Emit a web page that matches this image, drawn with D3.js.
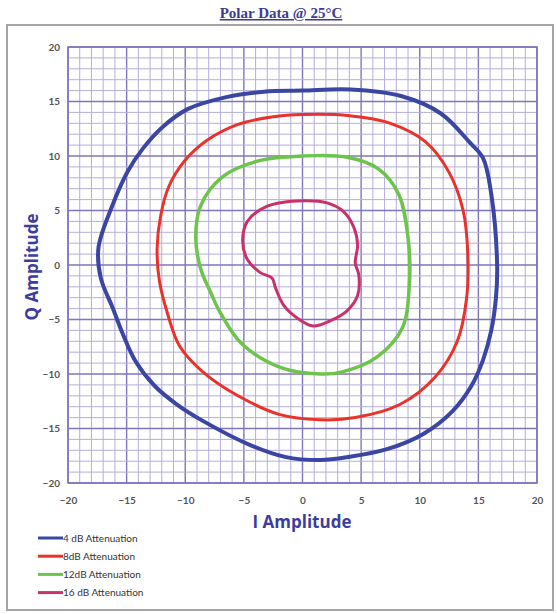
<!DOCTYPE html>
<html><head><meta charset="utf-8">
<script src="https://cdn.jsdelivr.net/npm/d3@7"></script>
<style>html,body{margin:0;padding:0;background:#fff;}svg{display:block;}</style>
</head><body>
<svg id="c" width="557" height="614"></svg>
<script>
const xTicks = [-20,-15,-10,-5,0,5,10,15,20];
const yTicks = [-20,-15,-10,-5,0,5,10,15,20];
const seriesNames = ["4 dB Attenuation","8dB Attenuation","12dB Attenuation","16 dB Attenuation"];
const seriesColors = ["#3a46a2","#e8322a","#6cc44a","#c8316c"];
const seriesWidths = [4,3,3.5,3];
const blueI = [0,4.1,8.4,11.8,14.3,15.4,16.1,16.6,16.5,16.1,15.4,14.4,12.8,10.3,7.2,4.0,1.5,-1.5,-4.5,-8.5,-10.7,-12.6,-14.2,-15.3,-16.2,-17.2,-17.4,-16.2,-14.9,-13.6,-12.0,-9.8,-6.5,-3.3];
const blueQ = [16,16.1,15.5,13.9,11.2,9.8,6.5,0,-3,-6,-8.7,-11.1,-13.4,-15.5,-16.9,-17.6,-17.9,-17.6,-16.5,-14.3,-12.8,-11.1,-8.9,-6.4,-3.9,-1.2,1.6,5.5,8.6,10.7,12.6,14.3,15.4,15.9];
const redI = [0,4,7.5,10.5,12.5,13.7,14.1,14,13.2,11.3,8.3,4.5,1.5,-2,-5.5,-8.5,-10.5,-11.5,-12.2,-12.4,-12.1,-11.4,-10.1,-8.2,-5.5,-2.5];
const redQ = [13.8,13.7,13,11.3,8.5,5,1,-3,-7,-10.3,-12.8,-14,-14.2,-13.7,-12,-9.8,-7.4,-4.5,-1.5,1.5,4.5,7.2,9.5,11.4,12.9,13.6];
const greenI = [0,3.7,6.5,8.2,9.0,9.1,8.5,6.4,3.4,1.5,-1.9,-5.2,-7.0,-7.8,-8.7,-9.1,-8.7,-6.8,-3.6];
const greenQ = [10,9.9,8.8,6.5,2.5,-2.1,-5.8,-8.4,-9.8,-10,-9.4,-7.2,-4.4,-2.6,-0.3,2.5,5.4,8.1,9.6];
const magI = [0.1,2.1,3.5,4.4,4.7,4.5,4.8,4.7,3.8,2.4,0.9,-0.4,-1.6,-2.3,-2.6,-3.6,-4.7,-5.1,-4.7,-3.0];
const magQ = [5.9,5.7,4.9,3.4,1.8,0.2,-0.9,-2.8,-4.2,-5.1,-5.6,-4.9,-3.7,-2.1,-1.2,-0.7,0.5,2.2,4.0,5.4];
const seriesI = [blueI, redI, greenI, magI];
const seriesQ = [blueQ, redQ, greenQ, magQ];

const svg = d3.select("#c");
svg.append("rect").attr("x",7).attr("y",25).attr("width",546).attr("height",585)
  .attr("fill","#fff").attr("stroke","#aaa3a3").attr("stroke-width",2);

svg.append("text").attr("x",281).attr("y",18).attr("text-anchor","middle")
  .attr("font-family","Liberation Serif, serif").attr("font-weight","bold").attr("font-size",15)
  .attr("fill","#3b3b8f").attr("text-decoration","underline").text("Polar Data @ 25°C");

const x = d3.scaleLinear().domain([-20,20]).range([68,537]);
const y = d3.scaleLinear().domain([-20,20]).range([483,47]);

const g = svg.append("g");
const minor = d3.range(-20,21,1);
g.selectAll(".vx").data(minor).enter().append("line")
  .attr("x1",d=>x(d)).attr("x2",d=>x(d)).attr("y1",y(-20)).attr("y2",y(20))
  .attr("stroke",d=>d%5===0?"#8074bb":"#b6aed9").attr("stroke-width",d=>d%5===0?1.4:1);
g.selectAll(".hy").data(minor).enter().append("line")
  .attr("y1",d=>y(d)).attr("y2",d=>y(d)).attr("x1",x(-20)).attr("x2",x(20))
  .attr("stroke",d=>d%5===0?"#8074bb":"#b6aed9").attr("stroke-width",d=>d%5===0?1.4:1);
g.append("rect").attr("x",x(-20)).attr("y",y(20)).attr("width",x(20)-x(-20)).attr("height",y(-20)-y(20))
  .attr("fill","none").attr("stroke","#8074bb").attr("stroke-width",1.5);

const xAxis = svg.append("g").attr("transform",`translate(0,${y(-20)+8})`)
  .call(d3.axisBottom(x).tickValues(xTicks).tickSize(0).tickPadding(6));
const yAxis = svg.append("g").attr("transform",`translate(${x(-20)-6},0)`)
  .call(d3.axisLeft(y).tickValues(yTicks).tickSize(0).tickPadding(2));
[xAxis,yAxis].forEach(a=>{
  a.select(".domain").remove();
  a.selectAll("text").attr("font-family","Lato, sans-serif").attr("font-weight","bold")
   .attr("font-size",10).attr("fill","#555");
});

svg.append("text").attr("x",302).attr("y",528).attr("text-anchor","middle")
  .attr("font-family","Open Sans, sans-serif").attr("font-weight","bold").attr("font-size",17)
  .attr("fill","#3d3d9e").text("I Amplitude");
svg.append("text").attr("transform","translate(38,267) rotate(-90)").attr("text-anchor","middle")
  .attr("font-family","Open Sans, sans-serif").attr("font-weight","bold").attr("font-size",17)
  .attr("fill","#3d3d9e").text("Q Amplitude");

const line = d3.line().x(d=>x(d[0])).y(d=>y(d[1])).curve(d3.curveCatmullRomClosed.alpha(0.5));
seriesI.forEach((arr,k)=>{
  const pts = arr.map((v,i)=>[v, seriesQ[k][i]]);
  svg.append("path").attr("d",line(pts)).attr("fill","none")
    .attr("stroke",seriesColors[k]).attr("stroke-width",seriesWidths[k]).attr("stroke-linejoin","round");
});

const leg = svg.append("g");
seriesNames.forEach((n,k)=>{
  const yy = 538 + k*18.2;
  leg.append("line").attr("x1",38).attr("x2",63).attr("y1",yy).attr("y2",yy)
    .attr("stroke",seriesColors[k]).attr("stroke-width",3);
  leg.append("text").attr("x",63).attr("y",yy+3.5).attr("font-family","Lato, sans-serif")
    .attr("font-size",10).attr("fill","#333").text(n);
});
</script>
</body></html>
